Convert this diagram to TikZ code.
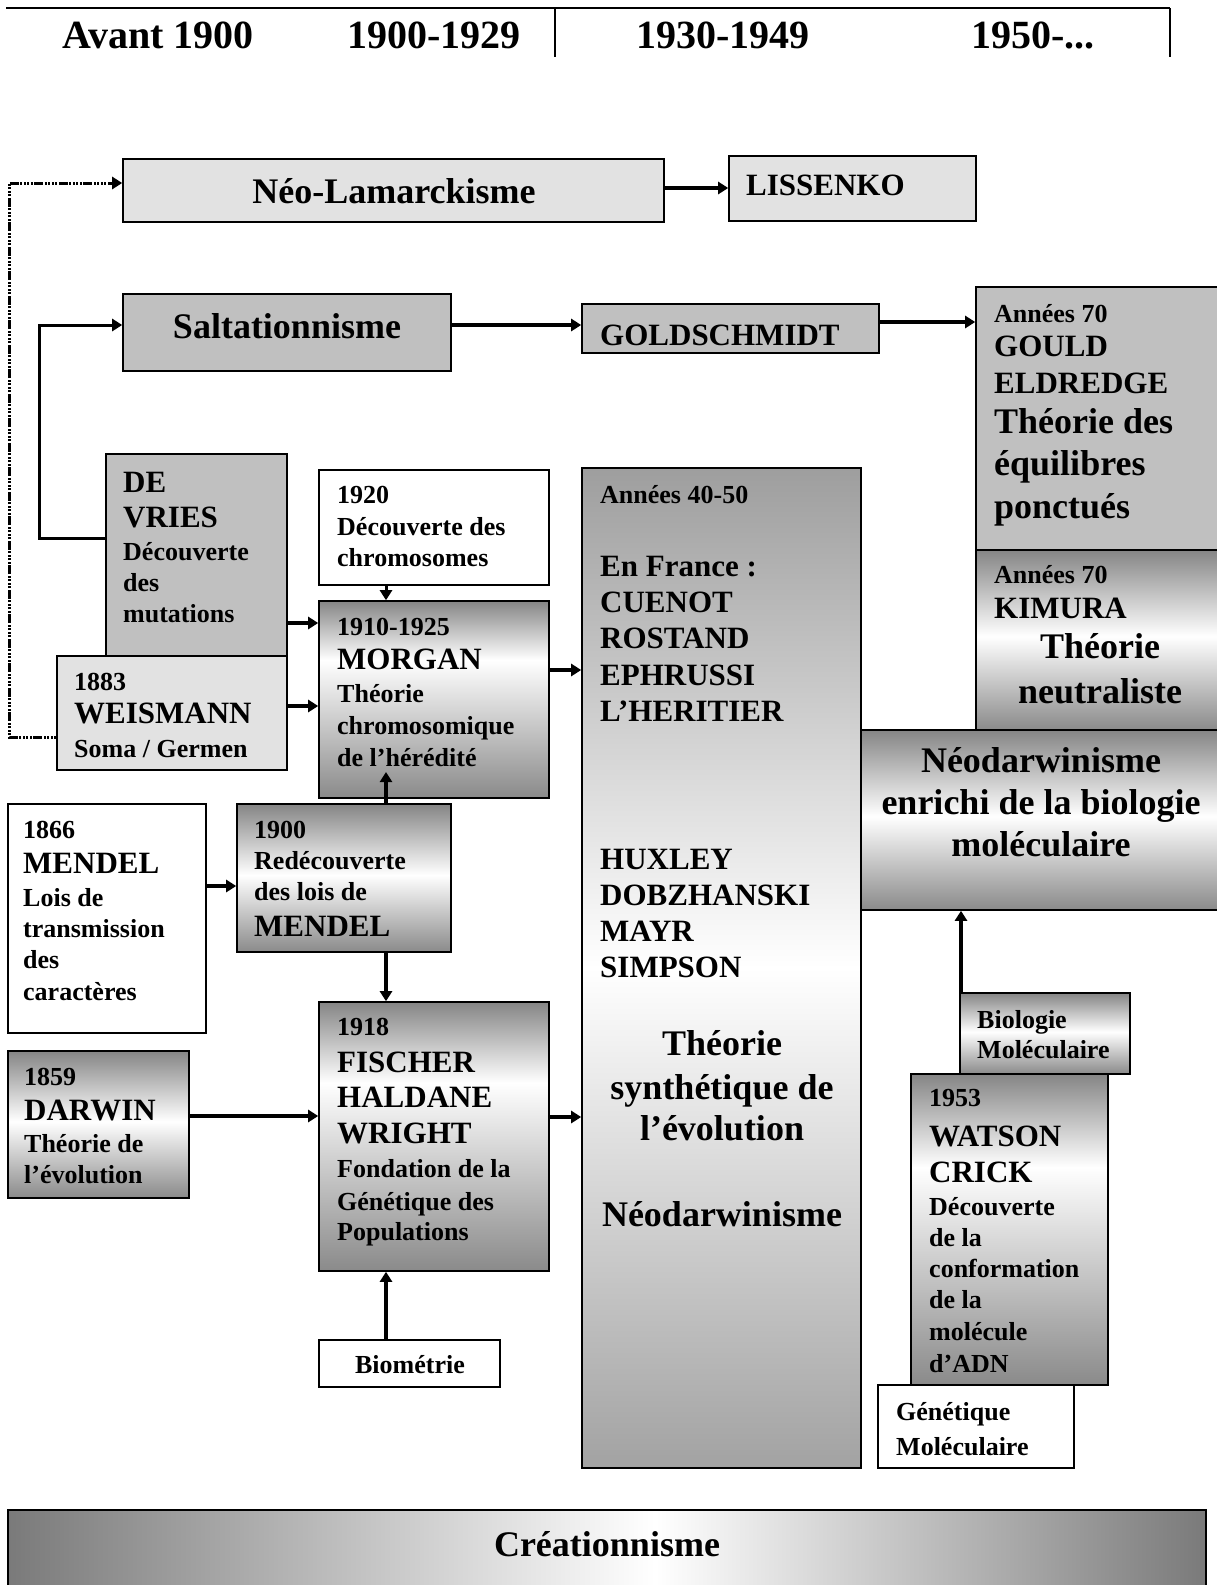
\documentclass[tikz,border=0pt]{standalone}
\usepackage{fontspec}
\setmainfont{Liberation Serif}
\usetikzlibrary{arrows.meta,fit}
\definecolor{boxgray}{HTML}{C0C0C0}
\definecolor{texgray}{HTML}{E2E2E2}
\definecolor{edgeT}{HTML}{858585}
\definecolor{edgeB}{HTML}{8A8A8A}
\definecolor{bigT}{HTML}{9E9E9E}
\definecolor{bigB}{HTML}{A2A2A2}
\definecolor{edgeC}{HTML}{7A7A7A}
\pgfdeclareverticalshading{chromeA}{100bp}{color(0bp)=(edgeB); color(25bp)=(edgeB); color(60bp)=(white); color(75bp)=(edgeT); color(100bp)=(edgeT)}
\pgfdeclareverticalshading{chromeB}{100bp}{color(0bp)=(edgeB); color(25bp)=(edgeB); color(51bp)=(white); color(75bp)=(edgeT); color(100bp)=(edgeT)}
\pgfdeclareverticalshading{bigshade}{100bp}{color(0bp)=(bigB); color(25bp)=(bigB); color(50bp)=(white); color(75bp)=(bigT); color(100bp)=(bigT)}
\pgfdeclarehorizontalshading{creashade}{100bp}{color(0bp)=(edgeC); color(25bp)=(edgeC); color(52bp)=(white); color(75bp)=(edgeC); color(100bp)=(edgeC)}
\newcommand\ftS{\fontsize{26}{30}\selectfont\bfseries}
\newcommand\ftN{\fontsize{31}{36}\selectfont\bfseries}
\newcommand\ftB{\fontsize{36}{42}\selectfont\bfseries}
\newcommand\ftH{\fontsize{40}{46}\selectfont\bfseries}
\begin{document}
\begin{tikzpicture}[x=1pt,y=-1pt,
  bx/.style={draw=black, line width=1.6pt, inner sep=0pt},
  plain/.style={bx, fill=white},
  flat/.style={bx, fill=boxgray},
  tex/.style={bx, fill=texgray},
  shA/.style={bx, shading=chromeA},
  shB/.style={bx, shading=chromeB},
  big/.style={bx, shading=bigshade},
  crea/.style={bx, shading=creashade},
  arr/.style={line width=4pt, -{Triangle[length=10pt,width=12pt]}},
  arrthin/.style={line width=3pt, -{Triangle[length=10pt,width=12pt]}},
  dotarr/.style={line width=3pt, dash pattern=on 2pt off 1.5pt on 2pt off 1.5pt on 2pt off 1.5pt on 2pt off 1.5pt on 9pt off 1.5pt, -{Triangle[length=10pt,width=12pt]}},
  tw/.style={anchor=base west, inner sep=0pt},
  tc/.style={anchor=base, inner sep=0pt}]
\useasboundingbox[fill=white] (0,0) rectangle (1216,1585);

% header
\coordinate (tl) at (6,8);
\coordinate (tr) at (1170,8);
\coordinate (ml) at (555,8);
\coordinate (mb) at (555,57);
\coordinate (rb) at (1170,57);
\draw[line width=2.2pt] (tl) -- (tr);
\draw[line width=1.5pt] (ml) -- (mb) (tr) -- (rb);
\node[tc,font=\ftH] (h1) at (158,48) {Avant 1900};
\node[tc,font=\ftH] (h2) at (434,48) {1900-1929};
\node[tc,font=\ftH] (h3) at (723,48) {1930-1949};
\node[tc,font=\ftH] (h4) at (1033,48) {1950-...};

% boxes
\node[tex, fit={(123,159) (664,222)}] (neolam) {};
\node[tex, fit={(729,156) (976,221)}] (liss) {};
\node[flat, fit={(123,294) (451,371)}] (salt) {};
\node[flat, fit={(582,304) (879,353)}] (gold) {};
\node[flat, fit={(976,287) (1222,550)}] (gould) {};
\node[shB, fit={(976,550) (1222,730)}] (kimura) {};
\node[shB, fit={(861,730) (1222,910)}] (neoenr) {};
\node[big, fit={(582,468) (861,1468)}] (synth) {};
\node[flat, fit={(106,454) (287,656)}] (devries) {};
\node[tex, fit={(57,656) (287,770)}] (weis) {};
\node[plain, fit={(319,470) (549,585)}] (chrom) {};
\node[shA, fit={(319,601) (549,798)}] (morgan) {};
\node[plain, fit={(8,804) (206,1033)}] (mendel) {};
\node[shB, fit={(237,804) (451,952)}] (redec) {};
\node[shA, fit={(319,1002) (549,1271)}] (fischer) {};
\node[shB, fit={(8,1051) (189,1198)}] (darwin) {};
\node[plain, fit={(319,1340) (500,1387)}] (biom) {};
\node[shB, fit={(960,993) (1130,1074)}] (biomol) {};
\node[shA, fit={(911,1074) (1108,1385)}] (watson) {};
\node[plain, fit={(878,1385) (1074,1468)}] (genmol) {};
\node[crea, fit={(8,1510) (1206,1600)}] (creat) {};

% texts
\node[tc,font=\ftB] (t-neolam) at (394,203) {Néo-Lamarckisme};
\node[tw,font=\ftN] (t-liss) at (746,195) {LISSENKO};
\node[tc,font=\ftB] (t-salt) at (287,338) {Saltationnisme};
\node[tw,font=\ftN] (t-gold) at (600,345) {GOLDSCHMIDT};

\node[tw,font=\ftS] (t-g1) at (994,322) {Années 70};
\node[tw,font=\ftN] (t-g2) at (994,356) {GOULD};
\node[tw,font=\ftN] (t-g3) at (994,393) {ELDREDGE};
\node[tw,font=\ftB] (t-g4) at (994,433) {Théorie des};
\node[tw,font=\ftB] (t-g5) at (994,475) {équilibres};
\node[tw,font=\ftB] (t-g6) at (994,518) {ponctués};

\node[tw,font=\ftS] (t-k1) at (994,583) {Années 70};
\node[tw,font=\ftN] (t-k2) at (994,618) {KIMURA};
\node[tw,font=\ftB] (t-k3) at (1040,658) {Théorie};
\node[tw,font=\ftB] (t-k4) at (1018,703) {neutraliste};

\node[tc,font=\ftB] (t-n1) at (1041,772) {Néodarwinisme};
\node[tc,font=\ftB] (t-n2) at (1041,814) {enrichi de la biologie};
\node[tc,font=\ftB] (t-n3) at (1041,856) {moléculaire};

\node[tw,font=\ftS] (t-s1) at (600,503) {Années 40-50};
\node[tw,font=\ftN] (t-s2) at (600,576) {En France :};
\node[tw,font=\ftN] (t-s3) at (600,612) {CUENOT};
\node[tw,font=\ftN] (t-s4) at (600,648) {ROSTAND};
\node[tw,font=\ftN] (t-s5) at (600,685) {EPHRUSSI};
\node[tw,font=\ftN] (t-s6) at (600,721) {L’HERITIER};
\node[tw,font=\ftN] (t-s7) at (600,869) {HUXLEY};
\node[tw,font=\ftN] (t-s8) at (600,905) {DOBZHANSKI};
\node[tw,font=\ftN] (t-s9) at (600,941) {MAYR};
\node[tw,font=\ftN] (t-s10) at (600,977) {SIMPSON};
\node[tc,font=\ftB] (t-s11) at (722,1055) {Théorie};
\node[tc,font=\ftB] (t-s12) at (722,1099) {synthétique de};
\node[tc,font=\ftB] (t-s13) at (722,1140) {l’évolution};
\node[tc,font=\ftB] (t-s14) at (722,1226) {Néodarwinisme};

\node[tw,font=\ftN] (t-d1) at (123,492) {DE};
\node[tw,font=\ftN] (t-d2) at (123,527) {VRIES};
\node[tw,font=\ftS] (t-d3) at (123,560) {Découverte};
\node[tw,font=\ftS] (t-d4) at (123,591) {des};
\node[tw,font=\ftS] (t-d5) at (123,622) {mutations};

\node[tw,font=\ftS] (t-w1) at (74,690) {1883};
\node[tw,font=\ftN] (t-w2) at (74,723) {WEISMANN};
\node[tw,font=\ftS] (t-w3) at (74,757) {Soma / Germen};

\node[tw,font=\ftS] (t-c1) at (337,503) {1920};
\node[tw,font=\ftS] (t-c2) at (337,535) {Découverte des};
\node[tw,font=\ftS] (t-c3) at (337,566) {chromosomes};

\node[tw,font=\ftS] (t-m1) at (337,635) {1910-1925};
\node[tw,font=\ftN] (t-m2) at (337,669) {MORGAN};
\node[tw,font=\ftS] (t-m3) at (337,702) {Théorie};
\node[tw,font=\ftS] (t-m4) at (337,734) {chromosomique};
\node[tw,font=\ftS] (t-m5) at (337,766) {de l’hérédité};

\node[tw,font=\ftS] (t-e1) at (23,838) {1866};
\node[tw,font=\ftN] (t-e2) at (23,873) {MENDEL};
\node[tw,font=\ftS] (t-e3) at (23,906) {Lois de};
\node[tw,font=\ftS] (t-e4) at (23,937) {transmission};
\node[tw,font=\ftS] (t-e5) at (23,968) {des};
\node[tw,font=\ftS] (t-e6) at (23,1000) {caractères};

\node[tw,font=\ftS] (t-r1) at (254,838) {1900};
\node[tw,font=\ftS] (t-r2) at (254,869) {Redécouverte};
\node[tw,font=\ftS] (t-r3) at (254,900) {des lois de};
\node[tw,font=\ftN] (t-r4) at (254,936) {MENDEL};

\node[tw,font=\ftS] (t-f1) at (337,1035) {1918};
\node[tw,font=\ftN] (t-f2) at (337,1072) {FISCHER};
\node[tw,font=\ftN] (t-f3) at (337,1107) {HALDANE};
\node[tw,font=\ftN] (t-f4) at (337,1143) {WRIGHT};
\node[tw,font=\ftS] (t-f5) at (337,1177) {Fondation de la};
\node[tw,font=\ftS] (t-f6) at (337,1210) {Génétique des};
\node[tw,font=\ftS] (t-f7) at (337,1240) {Populations};

\node[tw,font=\ftS] (t-a1) at (24,1085) {1859};
\node[tw,font=\ftN] (t-a2) at (24,1120) {DARWIN};
\node[tw,font=\ftS] (t-a3) at (24,1152) {Théorie de};
\node[tw,font=\ftS] (t-a4) at (24,1183) {l’évolution};

\node[tc,font=\ftS] (t-b1) at (410,1373) {Biométrie};

\node[tw,font=\ftS] (t-bm1) at (977,1028) {Biologie};
\node[tw,font=\ftS] (t-bm2) at (977,1058) {Moléculaire};

\node[tw,font=\ftS] (t-ws1) at (929,1106) {1953};
\node[tw,font=\ftN] (t-ws2) at (929,1146) {WATSON};
\node[tw,font=\ftN] (t-ws3) at (929,1182) {CRICK};
\node[tw,font=\ftS] (t-ws4) at (929,1215) {Découverte};
\node[tw,font=\ftS] (t-ws5) at (929,1246) {de la};
\node[tw,font=\ftS] (t-ws6) at (929,1277) {conformation};
\node[tw,font=\ftS] (t-ws7) at (929,1308) {de la};
\node[tw,font=\ftS] (t-ws8) at (929,1340) {molécule};
\node[tw,font=\ftS] (t-ws9) at (929,1372) {d’ADN};

\node[tw,font=\ftS] (t-gm1) at (896,1420) {Génétique};
\node[tw,font=\ftS] (t-gm2) at (896,1455) {Moléculaire};

\node[tc,font=\ftB] (t-cr) at (607,1556) {Créationnisme};

% connectors
\coordinate (dotc) at (9,183);
\coordinate (dvc) at (39,325);
\coordinate (rm) at (386,772);
\draw[dotarr] (weis.west |- 0,737) -| (dotc) -- (neolam.west |- dotc);
\draw[arrthin] (devries.west |- 0,538) -| (dvc) -- (salt.west |- dvc);
\draw[arr] (neolam.east |- 0,188) -- (liss.west |- 0,188);
\draw[arr] (salt.east |- 0,325) -- (gold.west |- 0,325);
\draw[arr] (gold.east |- 0,322) -- (gould.west |- 0,322);
\draw[arrthin] (chrom.south -| rm) -- (morgan.north -| rm);
\draw[arr] (devries.east |- 0,623) -- (morgan.west |- 0,623);
\draw[arr] (weis.east |- 0,706) -- (morgan.west |- 0,706);
\draw[arr] (morgan.east |- 0,670) -- (synth.west |- 0,670);
\draw[arr] (mendel.east |- 0,886) -- (redec.west |- 0,886);
\draw[arr] (redec.north -| rm) -- (rm);
\draw[arr] (redec.south -| rm) -- (fischer.north -| rm);
\draw[arr] (darwin.east |- 0,1116) -- (fischer.west |- 0,1116);
\draw[arr] (fischer.east |- 0,1117) -- (synth.west |- 0,1117);
\draw[arr] (biom.north -| rm) -- (fischer.south -| rm);
\draw[arr] (biomol.north -| 961,0) -- (neoenr.south -| 961,0);
\end{tikzpicture}
\end{document}
